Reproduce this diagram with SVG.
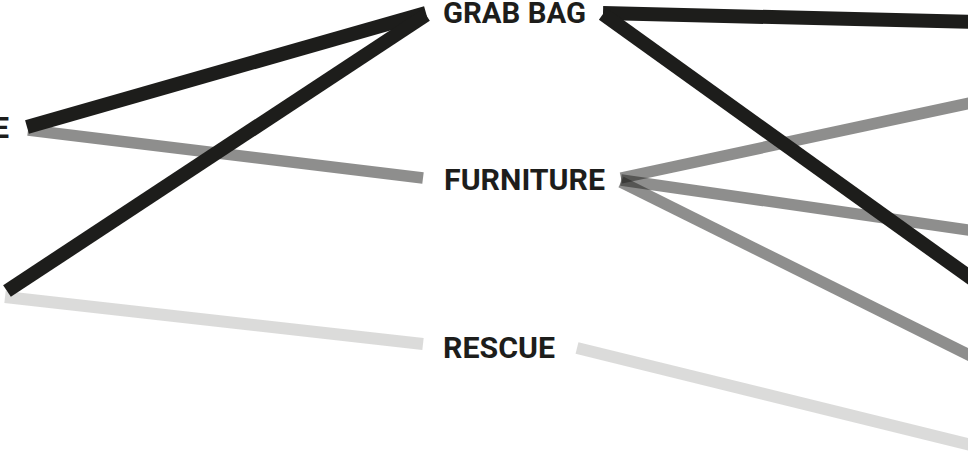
<svg xmlns="http://www.w3.org/2000/svg" width="968" height="454" viewBox="0 0 968 454">
<style>
.lbl{font-family:Roboto,"Liberation Sans",sans-serif;font-weight:700;font-size:29px;fill:#1d1d1b}
.k{stroke:#1d1d1b;stroke-width:14;stroke-linecap:butt;fill:none}
.g{stroke:#1d1d1b;stroke-opacity:0.5;stroke-width:11.5;stroke-linecap:butt;fill:none}
.l{stroke:#1d1d1b;stroke-opacity:0.16;stroke-width:12;stroke-linecap:butt;fill:none}
</style>
<rect width="968" height="454" fill="#ffffff"/>
<g id="connectors">
<line class="g" x1="28" y1="130" x2="423" y2="178"/>
<line class="l" x1="5" y1="297" x2="423" y2="344"/>
<line class="g" x1="621" y1="178" x2="975" y2="102"/>
<line class="g" x1="621" y1="180" x2="975" y2="231"/>
<line class="g" x1="621" y1="182" x2="975" y2="358"/>
<line class="l" x1="577" y1="348" x2="975" y2="446"/>
<line class="k" x1="27" y1="127" x2="426" y2="13"/>
<line class="k" x1="7" y1="291" x2="426" y2="15"/>
<line class="k" x1="603" y1="13" x2="975" y2="22"/>
<line class="k" x1="603" y1="14" x2="975" y2="281"/>
</g>
<g id="node-left"><text class="lbl" x="9" y="138" text-anchor="end">E</text></g>
<g id="node-grabbag"><text class="lbl" x="443" y="23" textLength="143" lengthAdjust="spacingAndGlyphs">GRAB BAG</text></g>
<g id="node-furniture"><text class="lbl" x="444" y="190" textLength="161" lengthAdjust="spacingAndGlyphs">FURNITURE</text></g>
<g id="node-rescue"><text class="lbl" x="443" y="358" textLength="112" lengthAdjust="spacingAndGlyphs">RESCUE</text></g>
</svg>
